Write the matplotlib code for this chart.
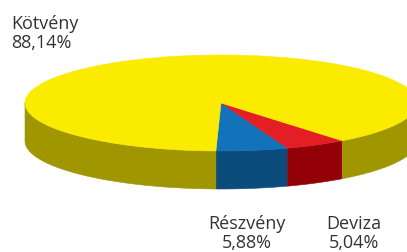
import numpy as np
import matplotlib
matplotlib.use("Agg")
import matplotlib.pyplot as plt
from matplotlib.patches import Polygon

categories = ["Kötvény", "Részvény", "Deviza"]
values = [88.14, 5.88, 5.04]
labels = ["88,14%", "5,88%", "5,04%"]
top_colors = ["#FAEB00", "#1273BA", "#E31E24"]
side_colors = ["#A09600", "#0B4C7C", "#930007"]

W, H = 407, 253
fig = plt.figure(figsize=(W / 100, H / 100), dpi=100)
ax = fig.add_axes([0, 0, 1, 1])
ax.set_xlim(0, W)
ax.set_ylim(H, 0)
ax.axis("off")

cx, cy, a, b, depth = 221, 104, 196, 48, 38
start = 91.5  # screen angle (deg, y down) where Részvény begins

# order of drawing slices around the pie: Részvény, Deviza, Kötvény
order = [1, 2, 0]
total = sum(values)
ranges = {}
t = start
for i in order:
    span = values[i] / total * 360.0
    ranges[i] = (t - span, t)
    t -= span


def pt(tt, dy=0.0):
    r = np.radians(tt)
    return cx + a * np.cos(r), cy + b * np.sin(r) + dy


# side walls (front half only: sin t > 0)
for i in order:
    lo, hi = ranges[i]
    cuts = [lo] + [k * 180 for k in range(int(np.floor(lo / 180)) + 1, int(np.ceil(hi / 180)))] + [hi]
    for s, e in zip(cuts[:-1], cuts[1:]):
        mid = np.radians((s + e) / 2)
        if np.sin(mid) <= 0 or e - s < 1e-6:
            continue
        ts = np.linspace(s, e, 120)
        topx, topy = pt(ts)
        botx, boty = pt(ts[::-1], depth)
        poly = np.column_stack([np.r_[topx, botx], np.r_[topy, boty]])
        ax.add_patch(Polygon(poly, closed=True, facecolor=side_colors[i],
                             edgecolor=side_colors[i], linewidth=0.4))

# top surfaces
for i in order:
    lo, hi = ranges[i]
    ts = np.linspace(lo, hi, 400)
    xs, ys = pt(ts)
    poly = np.column_stack([np.r_[cx, xs], np.r_[cy, ys]])
    ax.add_patch(Polygon(poly, closed=True, facecolor=top_colors[i],
                         edgecolor=top_colors[i], linewidth=0.4))

font = "Open Sans"
tc = "#333333"
fs = 13
ax.text(11, 48, f"{categories[0]}\n{labels[0]}", ha="left", va="baseline",
        fontsize=fs, family=font, color=tc, linespacing=1.1)
ax.text(247, 248, f"{categories[1]}\n{labels[1]}", ha="center", va="baseline",
        fontsize=fs, family=font, color=tc, linespacing=1.05)
ax.text(354, 248, f"{categories[2]}\n{labels[2]}", ha="center", va="baseline",
        fontsize=fs, family=font, color=tc, linespacing=1.05)

fig.savefig("out.png", dpi=100)
